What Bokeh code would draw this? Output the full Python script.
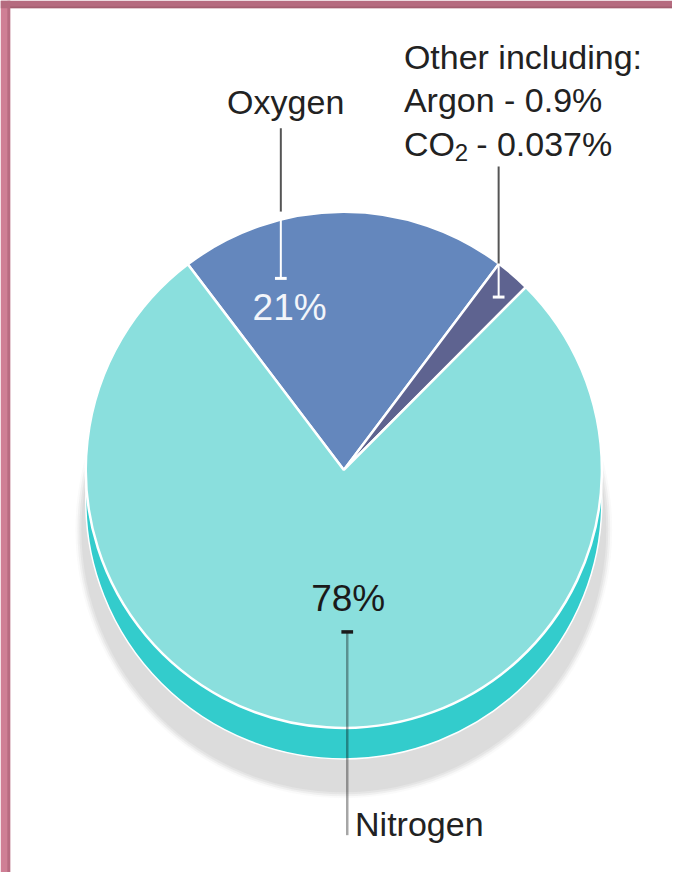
import numpy as np
from bokeh.plotting import figure
from bokeh.models import Range1d
from bokeh.core.properties import value
from bokeh.embed import file_html
from bokeh.resources import INLINE

# ---- data ----
categories = ["Oxygen", "Other", "Nitrogen"]      # clockwise order from the N/O boundary
shares = [20.6, 2.2, 77.2]                         # slice share as drawn (%)
colors = ["#6487BD", "#5E6390", "#8ADFDD"]
pct_labels = ["21%", "78%"]
other_title = "Other including:"
argon_line = "Argon - 0.9%"
co2_parts = ["CO", "2", "- 0.037%"]

# ---- layout: reference pixel coords scaled into the figure ----
W, H = 672, 872
SX, SY = W / 688, H / 888
S = (SX + SY) / 2
def X(px): return px * SX
def Y(py): return H - py * SY
def TY(py, size): return Y(py) + 0.4 * size   # text baseline compensation

cx, cy, R = X(351.5), Y(478), 263.5 * S
start_deg = 127.2
FONT = value("Liberation Sans")

p = figure(width=W, height=H, x_range=Range1d(0, W), y_range=Range1d(0, H),
           output_backend="svg", toolbar_location=None, min_border=0)
p.axis.visible = False
p.grid.visible = False
p.outline_line_color = None
p.background_fill_color = "white"
p.border_fill_color = "white"

# frame strips
p.quad(left=0, right=X(10), bottom=0, top=H, fill_color="#CF7F95", line_color=None)
p.quad(left=X(7), right=X(10), bottom=0, top=H, fill_color="#9C5468", fill_alpha=0.45, line_color=None)
p.quad(left=0, right=W, bottom=Y(8), top=H, fill_color="#B56B7F", line_color=None)
p.quad(left=X(10), right=W, bottom=Y(8), top=Y(6), fill_color="#8E4F60", fill_alpha=0.45, line_color=None)

# soft grey shadow
gcy = Y(539)
for r, a in [(274, 0.15), (272, 0.3), (270, 0.55), (268, 1.0)]:
    p.circle(x=[cx], y=[gcy], radius=r * S, fill_color="#DCDCDC", fill_alpha=a, line_color=None)

# teal rim
p.circle(x=[cx], y=[Y(509.5)], radius=R, fill_color="#33CCCC", line_color="white", line_width=1.5)

# pie wedges
frac = np.array(shares) / sum(shares)
cum = np.concatenate([[0], np.cumsum(frac)])
cw_start = np.deg2rad(start_deg) - cum[:-1] * 2 * np.pi
cw_end = np.deg2rad(start_deg) - cum[1:] * 2 * np.pi
p.wedge(x=cx, y=cy, radius=R, start_angle=cw_end, end_angle=cw_start,
        direction="anticlock", fill_color=colors, line_color="white", line_width=2.5)

# Oxygen leader
p.line(x=[X(287), X(287)], y=[Y(130), Y(215)], line_color="#555555", line_width=2)
p.line(x=[X(287), X(287)], y=[Y(215), Y(283)], line_color="white", line_width=2)
p.line(x=[X(281), X(293)], y=[Y(283), Y(283)], line_color="white", line_width=3)

# Other leader
p.line(x=[X(510), X(510)], y=[Y(169), Y(268)], line_color="#555555", line_width=2)
p.line(x=[X(510), X(510)], y=[Y(268), Y(302)], line_color="white", line_width=2)
p.line(x=[X(504), X(516)], y=[Y(302), Y(302)], line_color="white", line_width=3)

# Nitrogen leader
p.line(x=[X(355), X(355)], y=[Y(643), Y(850)], line_color="black", line_alpha=0.35, line_width=2.5)
p.line(x=[X(349), X(361)], y=[Y(643), Y(643)], line_color="#1A1A1A", line_width=3.5)

# labels
txt = dict(text_font=FONT, text_baseline="alphabetic")
F = 34
p.text(x=[X(292)], y=[TY(117, F)], text=["Oxygen"], text_align="center",
       text_font_size=f"{F}px", text_color="#222222", **txt)
p.text(x=[X(413)], y=[TY(71, F)], text=[other_title], text_align="left",
       text_font_size=f"{F}px", text_color="#222222", **txt)
p.text(x=[X(413)], y=[TY(115, F)], text=[argon_line], text_align="left",
       text_font_size=f"{F}px", text_color="#222222", **txt)
p.text(x=[X(413)], y=[TY(160, F)], text=[co2_parts[0]], text_align="left",
       text_font_size=f"{F}px", text_color="#222222", **txt)
p.text(x=[X(465)], y=[TY(165, 24)], text=[co2_parts[1]], text_align="left",
       text_font_size="24px", text_color="#222222", **txt)
p.text(x=[X(487)], y=[TY(160, F)], text=[co2_parts[2]], text_align="left",
       text_font_size=f"{F}px", text_color="#222222", **txt)
p.text(x=[X(296)], y=[TY(328, 37)], text=[pct_labels[0]], text_align="center",
       text_font_size="37px", text_color="#F2F5FA", **txt)
p.text(x=[X(356)], y=[TY(624, 37)], text=[pct_labels[1]], text_align="center",
       text_font_size="37px", text_color="#1A1A1A", **txt)
p.text(x=[X(363)], y=[TY(852, F)], text=["Nitrogen"], text_align="left",
       text_font_size=f"{F}px", text_color="#222222", **txt)

open("out.html", "w").write(file_html(p, INLINE))
